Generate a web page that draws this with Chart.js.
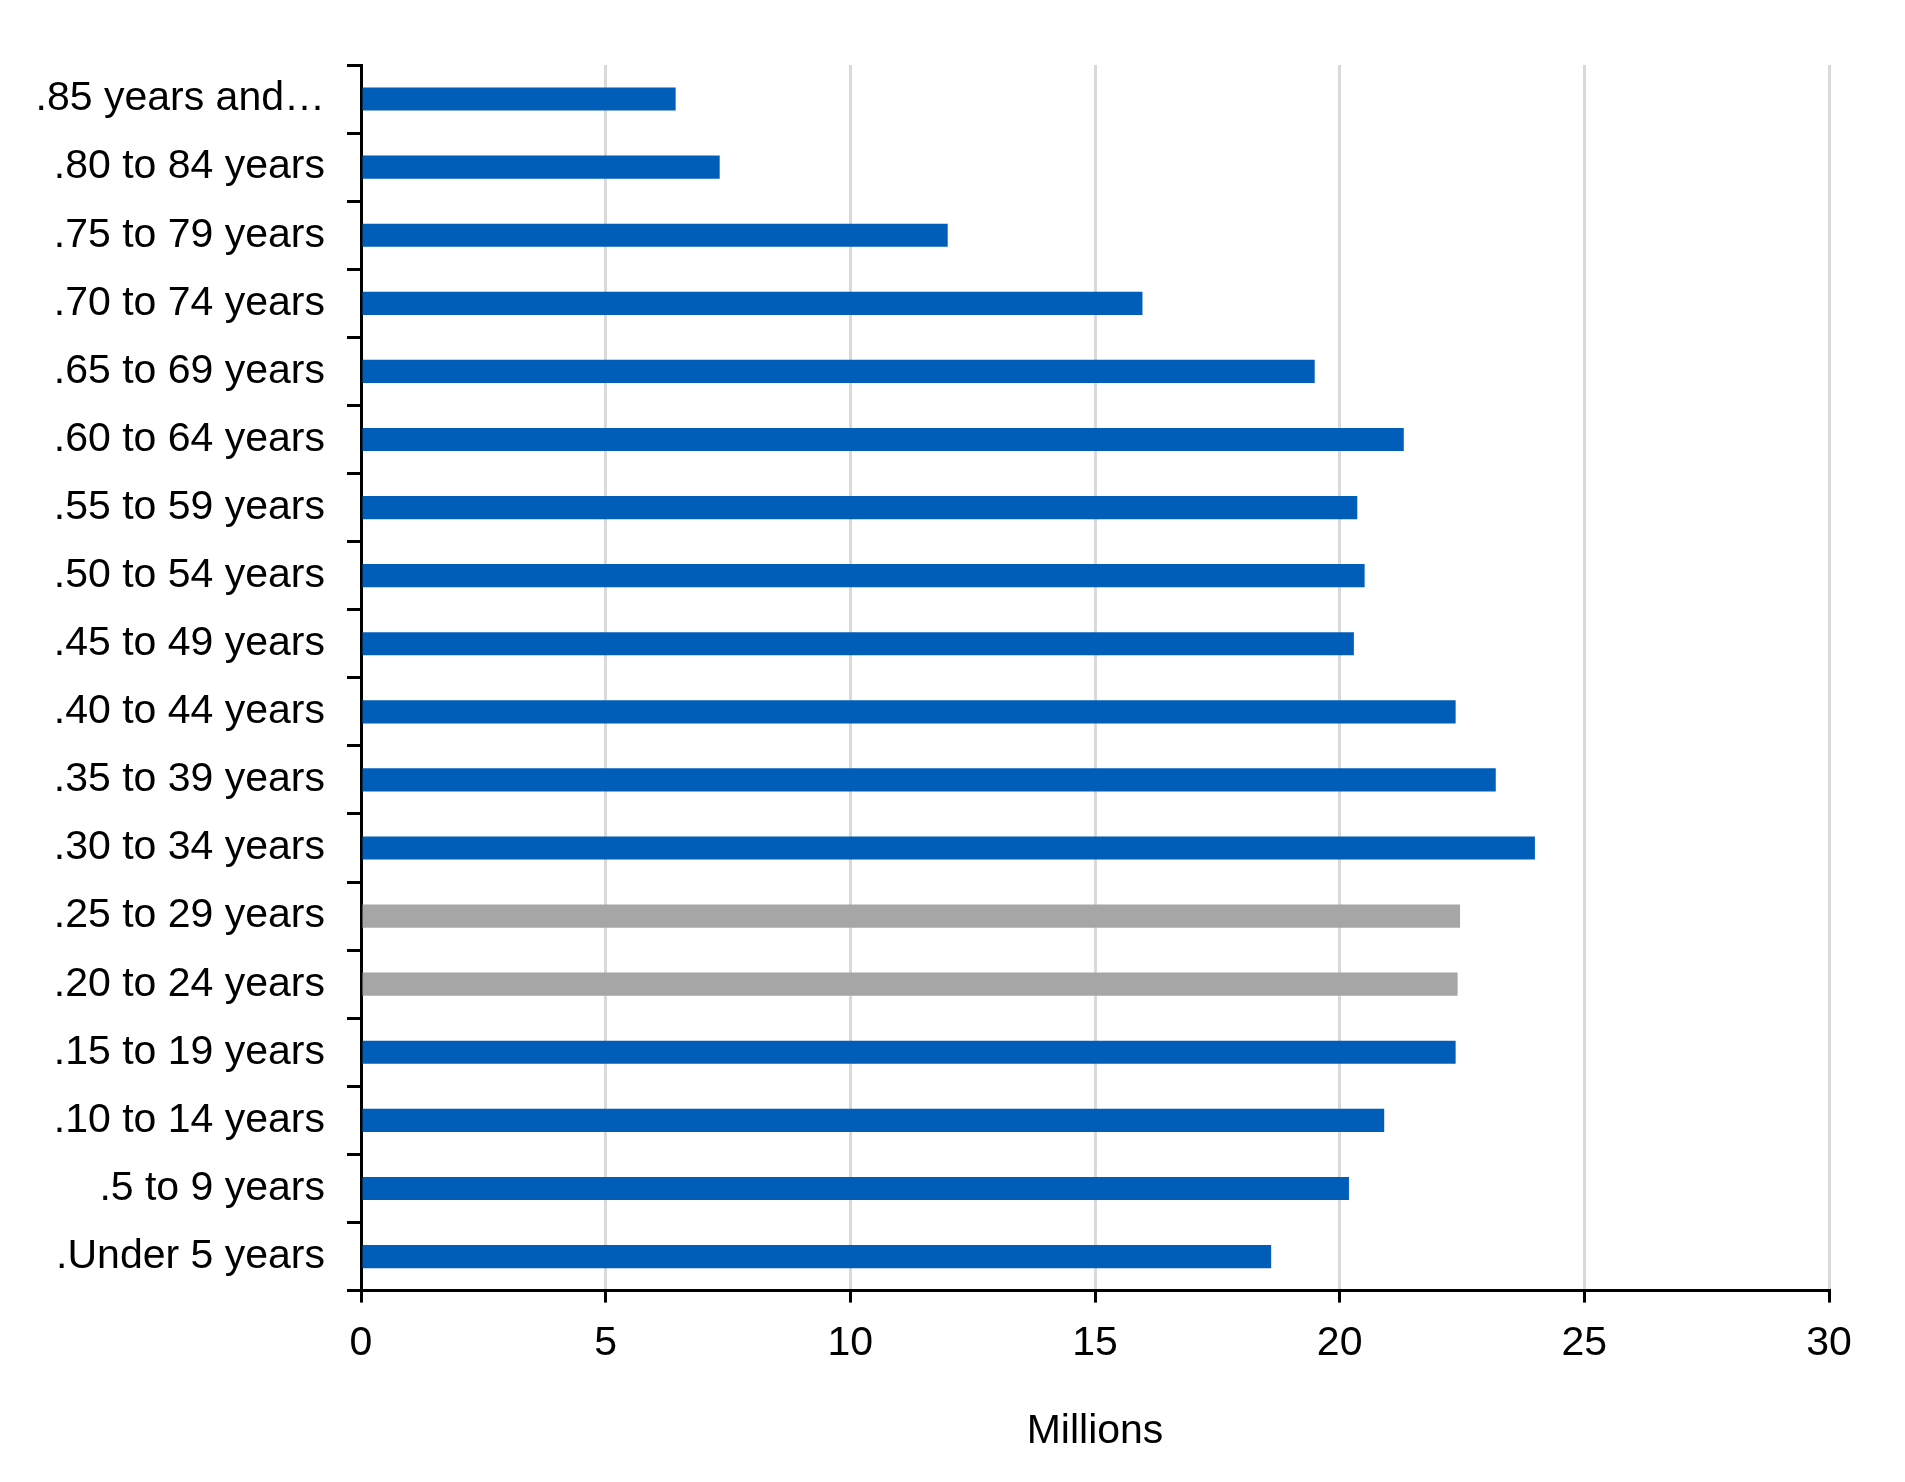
<!DOCTYPE html>
<html>
<head>
<meta charset="utf-8">
<script src="https://cdn.jsdelivr.net/npm/chart.js@4"></script>
<style>
  body { margin: 0; background: #fff; }
  #box { width: 1905px; height: 1482px; }
</style>
</head>
<body>
<div id="box"><canvas id="ageChart"></canvas></div>
<script>
// data
var ageGroups = [".85 years and…", ".80 to 84 years", ".75 to 79 years", ".70 to 74 years",
  ".65 to 69 years", ".60 to 64 years", ".55 to 59 years", ".50 to 54 years",
  ".45 to 49 years", ".40 to 44 years", ".35 to 39 years", ".30 to 34 years",
  ".25 to 29 years", ".20 to 24 years", ".15 to 19 years", ".10 to 14 years",
  ".5 to 9 years", ".Under 5 years"];
var population = [6.43, 7.33, 11.99, 15.97, 19.49, 21.31, 20.36, 20.51, 20.29,
  22.37, 23.19, 23.99, 22.46, 22.41, 22.37, 20.91, 20.19, 18.6];
var highlighted = [".25 to 29 years", ".20 to 24 years"];
var xTicks = [0, 5, 10, 15, 20, 25, 30];

var blue = "#005EB8";
var grey = "#A6A6A6";
var barColors = ageGroups.map(function (g) {
  return highlighted.indexOf(g) >= 0 ? grey : blue;
});

Chart.defaults.font.family = "'Liberation Sans', Arial, sans-serif";
Chart.defaults.font.size = 41;
Chart.defaults.color = "#000";

new Chart("ageChart", {
  type: "bar",
  data: {
    labels: ageGroups,
    datasets: [{
      data: population,
      backgroundColor: barColors,
      barPercentage: 0.34,
      categoryPercentage: 1
    }]
  },
  options: {
    indexAxis: "y",
    responsive: true,
    maintainAspectRatio: false,
    animation: false,
    devicePixelRatio: 1,
    layout: { padding: { top: 65, right: 76, bottom: 26, left: 0 } },
    plugins: {
      legend: { display: false },
      tooltip: { enabled: false }
    },
    scales: {
      x: {
        min: 0,
        max: 30,
        afterBuildTicks: function (scale) {
          scale.ticks = xTicks.map(function (v) { return { value: v }; });
        },
        grid: {
          color: "#D9D9D9",
          lineWidth: 3,
          tickColor: "#000",
          tickLength: 12
        },
        border: { display: true, color: "#000", width: 3 },
        ticks: { padding: 16, maxRotation: 0 },
        title: {
          display: true,
          text: "Millions",
          padding: { top: 23, bottom: 0 }
        }
      },
      y: {
        afterFit: function (scale) { scale.width = 361; },
        grid: {
          offset: true,
          drawOnChartArea: false,
          tickColor: "#000",
          lineWidth: 3,
          tickLength: 14
        },
        border: { display: true, color: "#000", width: 3 },
        ticks: { padding: 22, autoSkip: false }
      }
    }
  }
});
</script>
</body>
</html>
